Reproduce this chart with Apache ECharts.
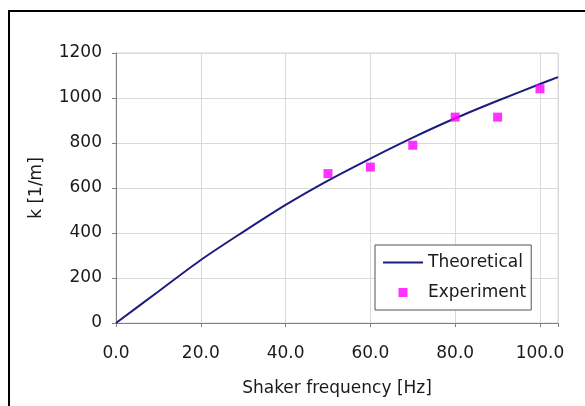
<!DOCTYPE html>
<html>
<head>
<meta charset="utf-8">
<script src="https://cdn.jsdelivr.net/npm/echarts@6/dist/echarts.min.js"></script>
<style>
html,body{margin:0;padding:0;background:#fff;}
#frame{position:absolute;left:8px;top:10px;width:585px;height:400px;border-left:2px solid #000;border-top:2px solid #000;}
#chart{position:absolute;left:0;top:0;width:585px;height:406px;}
</style>
</head>
<body>
<div id="frame"></div>
<div id="chart"></div>
<script>
const theoryFreq = [0, 10, 20, 30, 40, 50, 60, 70, 80, 90, 100, 104.25];
const theoryK    = [0, 140, 280, 405, 525, 633, 731, 824, 910, 988, 1062, 1093];
const expFreq = [50, 60, 70, 80, 90, 100];
const expK    = [664, 693, 790, 915, 915, 1041];
const xTicks = ['0.0', '20.0', '40.0', '60.0', '80.0', '100.0'];
const yTicks = ['0', '200', '400', '600', '800', '1000', '1200'];

const font = 'DejaVu Sans';
const fs = 17;
const txt = '#1a1a1a';
const chart = echarts.init(document.getElementById('chart'), null, {renderer: 'canvas'});
chart.setOption({
  animation: false,
  backgroundColor: 'transparent',
  grid: {left: 116, right: 27, top: 53, bottom: 83, containLabel: false,
         show: true, borderColor: '#d9d9d9', borderWidth: 1},
  xAxis: {
    type: 'value', min: 0, max: 104.25, interval: 20,
    name: 'Shaker frequency [Hz]', nameLocation: 'middle', nameGap: 57,
    nameTextStyle: {fontFamily: font, fontSize: fs, color: txt},
    axisLine: {show: true, lineStyle: {color: '#808080', width: 1}},
    axisTick: {show: true, length: 4, inside: false, lineStyle: {color: '#808080'}},
    axisLabel: {margin: 22, fontFamily: font, fontSize: fs, color: txt,
      formatter: function (v) { const i = Math.round(v / 20); return (Math.abs(v - i * 20) < 1e-6 && xTicks[i] !== undefined) ? xTicks[i] : ''; }},
    splitLine: {show: true, lineStyle: {color: '#d9d9d9', width: 1}}
  },
  yAxis: {
    type: 'value', min: 0, max: 1200, interval: 200,
    name: 'k [1/m]', nameLocation: 'middle', nameGap: 71, nameRotate: 90,
    nameTextStyle: {fontFamily: font, fontSize: fs, color: txt},
    axisLine: {show: true, lineStyle: {color: '#808080', width: 1}},
    axisTick: {show: true, length: 4, lineStyle: {color: '#808080'}},
    axisLabel: {margin: 14, fontFamily: font, fontSize: fs, color: txt,
      formatter: function (v) { const i = Math.round(v / 200); return yTicks[i] !== undefined ? yTicks[i] : ''; }},
    splitLine: {show: true, lineStyle: {color: '#d9d9d9', width: 1}}
  },
  legend: {
    show: true, orient: 'vertical', left: 375, top: 245,
    padding: [9, 5, 9, 8], itemGap: 13, itemWidth: 40, itemHeight: 9, itemTextGap: 7,
    backgroundColor: '#fff', borderColor: '#555', borderWidth: 1,
    textStyle: {fontFamily: font, fontSize: fs, color: txt},
    data: [
      {name: 'Theoretical', icon: 'path://M0,0H40V2H0Z', itemStyle: {color: '#1c1c80'}},
      {name: 'Experiment', icon: 'path://M0,0H10V10H0Z'}
    ]
  },
  series: [
    {
      name: 'Theoretical', type: 'line', smooth: 0.3, symbol: 'none',
      data: theoryFreq.map((f, i) => [f, theoryK[i]]),
      lineStyle: {color: '#1c1c80', width: 2},
      itemStyle: {color: '#1c1c80'}, z: 2
    },
    {
      name: 'Experiment', type: 'scatter', symbol: 'rect', symbolSize: 9,
      data: expFreq.map((f, i) => [f, expK[i]]),
      itemStyle: {color: '#ff00ff'}, z: 3
    }
  ]
});
</script>
</body>
</html>
